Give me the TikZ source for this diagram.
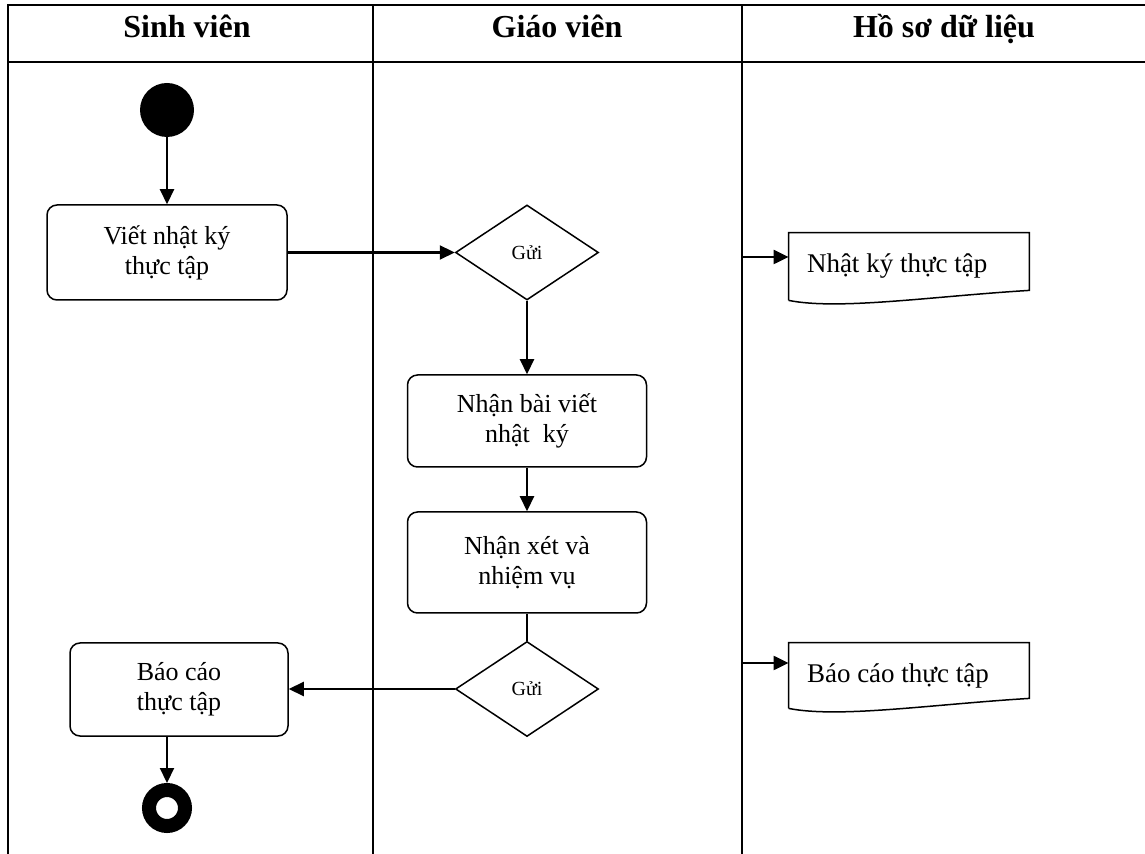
\documentclass[tikz,border=0pt]{standalone}
\usepackage{fontspec}
\setmainfont{Liberation Serif}
\usetikzlibrary{arrows.meta,shapes.geometric}
\newcommand{\docshape}[2]{\draw[line width=0.75pt] (#1.south west) -- (#1.north west) -- (#1.north east) -- ([yshift=#2]#1.south east) .. controls +(-98,6) and +(50,10) .. (#1.south west);}
\begin{document}
\begin{tikzpicture}[x=0.5pt,y=-0.5pt,
  lane/.style={line width=1pt},
  arr/.style={line width=1.1pt,-{Triangle[length=7.5pt,width=7pt]}},
  head/.style={anchor=base,font=\fontsize{16}{19}\selectfont\bfseries},
  act/.style={draw,line width=0.75pt,rounded corners=5pt,align=center,inner sep=2pt,font=\fontsize{13}{15}\selectfont},
  choice/.style={draw,diamond,line width=0.75pt,inner sep=0pt,minimum width=71.5pt,minimum height=47.5pt,font=\fontsize{10}{12}\selectfont},
  docnode/.style={align=flush left,text width=102pt,inner xsep=9pt,minimum width=119pt,font=\fontsize{13.5}{15}\selectfont}]
\useasboundingbox (0,0) rectangle (1145,854);
\draw[lane] (1145,5.5) -- (7.5,5.5) -- (7.5,854);
\draw[lane] (7.5,62) -- (1145,62);
\draw[lane] (373,5.5) -- (373,854);
\draw[lane] (742,5.5) -- (742,854);
\node[head] (h1) at (187,38) {Sinh viên};
\node[head] (h2) at (557,38) {Giáo viên};
\node[head] (h3) at (944,38) {Hồ sơ dữ liệu};

\node[circle,fill,inner sep=0pt,minimum size=27pt] (start) at (167,110) {};
\node[act,minimum width=120pt,minimum height=47.5pt] (wv) at (167,252.5) {Viết nhật ký\\thực tập};
\node[choice] (gui1) at (527,252.5) {Gửi};
\node[act,minimum width=119.5pt,minimum height=46pt] (nb) at (527,421) {Nhận bài viết\\nhật\ \ ký};
\node[act,minimum width=119.5pt,minimum height=50.5pt] (nx) at (527,562.5) {Nhận xét và\\nhiệm vụ};
\node[choice] (gui2) at (527,689) {Gửi};
\node[act,minimum width=109pt,minimum height=46.5pt] (bc) at (179,689.5) {Báo cáo\\ thực tập};
\node[circle,draw,fill=white,line width=7pt,inner sep=0pt,minimum size=18pt] (end) at (167,808) {};

\node[docnode,minimum height=33.5pt] (doc1) at (909,266.5) {Nhật ký thực tập};
\node[docnode,minimum height=32.5pt] (doc2) at (909,675.5) {Báo cáo thực tập};
\docshape{doc1}{5pt}
\docshape{doc2}{5pt}
\coordinate (in1) at (742,257);
\coordinate (in2) at (742,663);

\draw[arr] (start) -- (wv);
\draw[arr] (wv) -- (gui1);
\draw[arr] (gui1) -- (nb);
\draw[arr] (nb) -- (nx);
\draw[line width=1.1pt] (nx) -- (gui2);
\draw[arr] (gui2.west) -- (gui2.west -| bc.east);
\draw[arr] (bc.south -| end) -- (end);
\draw[arr] (in1) -- (in1 -| doc1.west);
\draw[arr] (in2) -- (in2 -| doc2.west);
\end{tikzpicture}
\end{document}
